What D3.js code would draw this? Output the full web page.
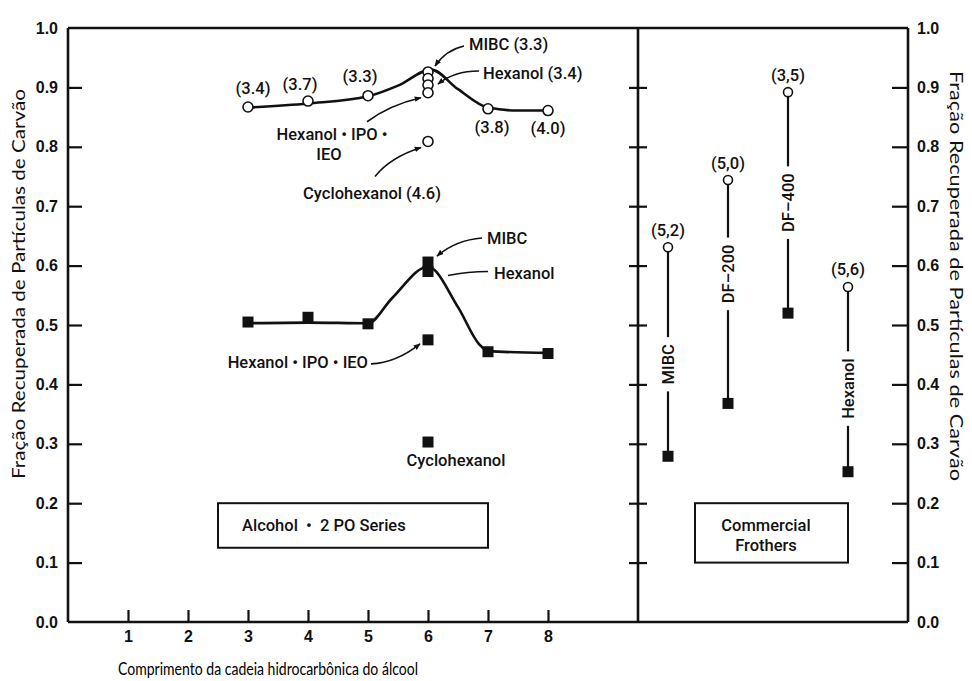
<!DOCTYPE html>
<html><head><meta charset="utf-8">
<script src="https://cdn.jsdelivr.net/npm/d3@7/dist/d3.min.js"></script>
<style>body{margin:0;background:#fff}</style>
</head><body>
<svg id="chart" width="972" height="681"></svg>
<script>
// ---------------- DATA ----------------
const yTickValues = [0,0.1,0.2,0.3,0.4,0.5,0.6,0.7,0.8,0.9,1.0];
const yTickLabels = ["0.0","0.1","0.2","0.3","0.4","0.5","0.6","0.7","0.8","0.9","1.0"];
const xTickValues = [1,2,3,4,5,6,7,8];
const xTickLabels = ["1","2","3","4","5","6","7","8"];

// Alcohol · 2 PO series — open circles (upper group)
const upperX      = [3, 4, 5, 6, 6, 6, 6, 7, 8, 6];
const upperY      = [0.867, 0.877, 0.886, 0.926, 0.915, 0.904, 0.891, 0.864, 0.861, 0.809];
const upperLabels = ["(3.4)","(3.7)","(3.3)","MIBC (3.3)","","Hexanol (3.4)","Hexanol • IPO •","(3.8)","(4.0)","Cyclohexanol (4.6)"];
// smooth curve knots (upper)
const upperCurveX = [3, 4, 5, 5.5, 6.05, 6.5, 7, 7.5, 8];
const upperCurveY = [0.866, 0.873, 0.885, 0.903, 0.930, 0.897, 0.866, 0.861, 0.861];

// Alcohol · 2 PO series — filled squares (lower group)
const lowerX      = [3, 4, 5, 6, 6, 6, 7, 8, 6];
const lowerY      = [0.505, 0.513, 0.502, 0.606, 0.590, 0.475, 0.455, 0.452, 0.303];
const lowerLabels = ["","","","MIBC","Hexanol","Hexanol • IPO • IEO","","","Cyclohexanol"];
// smooth curve knots (lower)
const lowerCurveX = [3, 4, 5, 5.4, 6.0, 6.5, 6.85, 7, 8];
const lowerCurveY = [0.503, 0.504, 0.503, 0.545, 0.598, 0.530, 0.468, 0.456, 0.453];

// Commercial frothers
const frotherNames   = ["MIBC","DF–200","DF–400","Hexanol"];
const frotherPos     = [10, 11, 12, 13];
const frotherCircle  = [0.631, 0.744, 0.892, 0.564];
const frotherSquare  = [0.279, 0.368, 0.520, 0.253];
const frotherLabels  = ["(5,2)","(5,0)","(3,5)","(5,6)"];

const yTitle = "Fração Recuperada de Partículas de Carvão";
const xTitle = "Comprimento da cadeia hidrocarbônica do álcool";
const box1Text = "Alcohol\u00a0\u00a0•\u00a0\u00a02 PO Series";
const box2Text = ["Commercial","Frothers"];

// ---------------- LAYOUT ----------------
const svg = d3.select("#chart");
const L = 68, R = 908, T = 28, B = 622;
const x = d3.scaleLinear().domain([0, 14]).range([L, R]);
const y = d3.scaleLinear().domain([0, 1]).range([B, T]);
const F = "'Liberation Sans', Arial, sans-serif";
const FA = "Roboto, 'Liberation Sans', sans-serif";
const FT = "Lato, 'Open Sans', sans-serif";
const ink = "#111";
const AS = 16.5;

svg.append("rect").attr("width",972).attr("height",681).attr("fill","#fff");

const defs = svg.append("defs");
defs.append("marker").attr("id","arr").attr("viewBox","0 0 10 10")
  .attr("refX",9).attr("refY",5).attr("markerWidth",7).attr("markerHeight",7)
  .attr("orient","auto").attr("markerUnits","userSpaceOnUse")
  .append("path").attr("d","M0,1 L10,5 L0,9 Z").attr("fill",ink);

// axes
function styleAxis(g){
  g.selectAll("path.domain").remove();
  g.selectAll(".tick line").attr("stroke",ink).attr("stroke-width",2.2);
  g.selectAll(".tick text").attr("font-family",F).attr("font-weight","bold")
    .attr("font-size",16).attr("fill",ink);
}
const yInner = yTickValues.filter(v => v > 0 && v < 1);
const fmtY = v => yTickLabels[yTickValues.findIndex(t => Math.abs(t - v) < 1e-9)];

// left axis
const gl = svg.append("g").attr("transform",`translate(${L},0)`)
  .call(d3.axisLeft(y).tickValues(yTickValues).tickFormat(fmtY).tickSize(-14).tickPadding(10));
styleAxis(gl);
gl.selectAll(".tick").filter(d => d === 0 || d === 1).select("line").remove();

// right axis
const gr = svg.append("g").attr("transform",`translate(${R},0)`)
  .call(d3.axisRight(y).tickValues(yTickValues).tickFormat(fmtY).tickSize(-16).tickPadding(9));
styleAxis(gr);
gr.selectAll(".tick").filter(d => d === 0 || d === 1).select("line").remove();

// divider with crossing ticks
const xd = x(9.5);
const gd1 = svg.append("g").attr("transform",`translate(${xd},0)`)
  .call(d3.axisLeft(y).tickValues(yInner).tickFormat("").tickSize(9));
styleAxis(gd1);
const gd2 = svg.append("g").attr("transform",`translate(${xd},0)`)
  .call(d3.axisRight(y).tickValues(yInner).tickFormat("").tickSize(9));
styleAxis(gd2);

// bottom axis
const gb = svg.append("g").attr("transform",`translate(0,${B})`)
  .call(d3.axisBottom(x).tickValues(xTickValues).tickFormat((d,i)=>xTickLabels[i]).tickSize(-12).tickPadding(9));
styleAxis(gb);

// frame lines
const frame = svg.append("g").attr("stroke",ink).attr("stroke-width",2.6).attr("fill","none");
frame.append("line").attr("x1",L).attr("x2",R).attr("y1",y(0)).attr("y2",y(0));
frame.append("line").attr("x1",L).attr("x2",R).attr("y1",y(1)).attr("y2",y(1));
frame.append("line").attr("x1",L).attr("x2",L).attr("y1",y(0)).attr("y2",y(1));
frame.append("line").attr("x1",R).attr("x2",R).attr("y1",y(0)).attr("y2",y(1));
frame.append("line").attr("x1",xd).attr("x2",xd).attr("y1",y(0)).attr("y2",y(1));

// curves
const line = d3.line().x(d=>x(d[0])).y(d=>y(d[1])).curve(d3.curveMonotoneX);
svg.append("path").attr("d", line(upperCurveX.map((v,i)=>[v,upperCurveY[i]])))
  .attr("fill","none").attr("stroke",ink).attr("stroke-width",2.6);
svg.append("path").attr("d", line(lowerCurveX.map((v,i)=>[v,lowerCurveY[i]])))
  .attr("fill","none").attr("stroke",ink).attr("stroke-width",2.6);

// markers
const sq = 11;
svg.append("g").selectAll("rect").data(lowerX.map((v,i)=>[v,lowerY[i]])).join("rect")
  .attr("x",d=>x(d[0])-sq/2).attr("y",d=>y(d[1])-sq/2).attr("width",sq).attr("height",sq).attr("fill",ink);
svg.append("g").selectAll("circle").data(upperX.map((v,i)=>[v,upperY[i]])).join("circle")
  .attr("cx",d=>x(d[0])).attr("cy",d=>y(d[1])).attr("r",5)
  .attr("fill","#fff").attr("stroke",ink).attr("stroke-width",1.6);

// text helper
function txt(px, py, s, anchor, size, fam, weight){
  return svg.append("text").attr("x",px).attr("y",py).text(s)
    .attr("text-anchor",anchor||"middle").attr("dominant-baseline","central")
    .attr("font-family",fam||FA).attr("font-weight",weight||500)
    .attr("font-size",size||AS).attr("fill",ink);
}
function arrow(d, head){
  svg.append("path").attr("d",d).attr("fill","none").attr("stroke",ink).attr("stroke-width",1.6)
    .attr("marker-end", head===false ? null : "url(#arr)");
}

// upper labels near points
const up = i => [x(upperX[i]), y(upperY[i])];
[[0,5,-19],[1,-8,-17],[2,-8,-19],[7,4,19],[8,0,18]].forEach(([i,dx,dy])=>{
  const [px,py] = up(i); txt(px+dx, py+dy, upperLabels[i]);
});
// MIBC (3.3)
{ const [px,py] = up(3);
  txt(px+41, py-27, upperLabels[3], "start");
  arrow(`M${px+36},${py-26} Q${px+18},${py-22} ${px+7},${py-6}`); }
// Hexanol (3.4)
{ const [px,py] = up(5);
  txt(px+55, py-12, upperLabels[5], "start");
  arrow(`M${px+51},${py-14} Q${px+26},${py-14} ${px+10},${py-1}`); }
// Hexanol • IPO • IEO (upper)
{ const [px,py] = up(6);
  txt(px-96, py+42, upperLabels[6]);
  txt(px-99, py+62, "IEO");
  arrow(`M${px-61},${py+29} Q${px-38},${py+12} ${px-7},${py+5}`); }
// Cyclohexanol (4.6)
{ const [px,py] = up(9);
  txt(px-56, py+52, upperLabels[9]);
  arrow(`M${px-53},${py+35} Q${px-38},${py+16} ${px-7},${py+6}`); }

// lower labels
const lo = i => [x(lowerX[i]), y(lowerY[i])];
{ const [px,py] = lo(3);
  txt(px+59, py-24, lowerLabels[3], "start");
  arrow(`M${px+54},${py-24} Q${px+28},${py-22} ${px+9},${py-6}`); }
{ const [px,py] = lo(4);
  txt(px+66, py+2, lowerLabels[4], "start");
  arrow(`M${px+60},${py} Q${px+40},${py} ${px+20},${py+4}`, false); }
{ const [px,py] = lo(5);
  txt(px-60, py+23, lowerLabels[5], "end");
  arrow(`M${px-57},${py+24} Q${px-32},${py+23} ${px-8},${py+4}`); }
{ const [px,py] = lo(8);
  txt(px+28, py+18, lowerLabels[8]); }

// commercial frothers
const labelFrac = [0.56, 0.42, 0.50, 0.55];
frotherPos.forEach((p,i)=>{
  const cx = x(p), yc = y(frotherCircle[i]), ys = y(frotherSquare[i]);
  const ym = yc + (ys - yc) * labelFrac[i];
  const t = svg.append("text").attr("transform",`translate(${cx},${ym}) rotate(-90)`)
    .attr("text-anchor","middle").attr("dominant-baseline","central")
    .attr("font-family",FA).attr("font-weight",500).attr("font-size",AS).attr("fill",ink)
    .text(frotherNames[i]);
  const half = t.node().getComputedTextLength()/2 + 7;
  svg.append("line").attr("x1",cx).attr("x2",cx).attr("y1",yc).attr("y2",ym-half)
    .attr("stroke",ink).attr("stroke-width",2.2);
  svg.append("line").attr("x1",cx).attr("x2",cx).attr("y1",ym+half).attr("y2",ys)
    .attr("stroke",ink).attr("stroke-width",2.2);
  svg.append("rect").attr("x",cx-sq/2).attr("y",ys-sq/2).attr("width",sq).attr("height",sq).attr("fill",ink);
  svg.append("circle").attr("cx",cx).attr("cy",yc).attr("r",4.5)
    .attr("fill","#fff").attr("stroke",ink).attr("stroke-width",1.6);
  txt(cx, yc-17, frotherLabels[i]);
});

// boxes
svg.append("rect").attr("x",x(2.5)).attr("y",y(0.2)).attr("width",x(7)-x(2.5)).attr("height",y(0.125)-y(0.2))
  .attr("fill","none").attr("stroke",ink).attr("stroke-width",2);
txt(x(2.5)+24, (y(0.2)+y(0.125))/2, box1Text, "start");
svg.append("rect").attr("x",x(10.45)).attr("y",y(0.2)).attr("width",x(13)-x(10.45)).attr("height",y(0.1)-y(0.2))
  .attr("fill","none").attr("stroke",ink).attr("stroke-width",2);
txt(766, y(0.2)+22, box2Text[0]);
txt(766, y(0.2)+42, box2Text[1]);

// axis titles
svg.append("text").attr("transform",`translate(18,284) rotate(-90)`)
  .attr("text-anchor","middle").attr("dominant-baseline","central")
  .attr("font-family",FT).attr("font-size",17).attr("fill","#111")
  .attr("textLength",390).attr("lengthAdjust","spacingAndGlyphs").text(yTitle);
svg.append("text").attr("transform",`translate(956,276) rotate(90)`)
  .attr("text-anchor","middle").attr("dominant-baseline","central")
  .attr("font-family",FT).attr("font-size",17).attr("fill","#111")
  .attr("textLength",410).attr("lengthAdjust","spacingAndGlyphs").text(yTitle);
svg.append("text").attr("x",268).attr("y",668)
  .attr("text-anchor","middle").attr("dominant-baseline","central")
  .attr("font-family",FT).attr("font-size",18).attr("fill","#000")
  .attr("textLength",300).attr("lengthAdjust","spacingAndGlyphs").text(xTitle);
</script>
</body></html>
